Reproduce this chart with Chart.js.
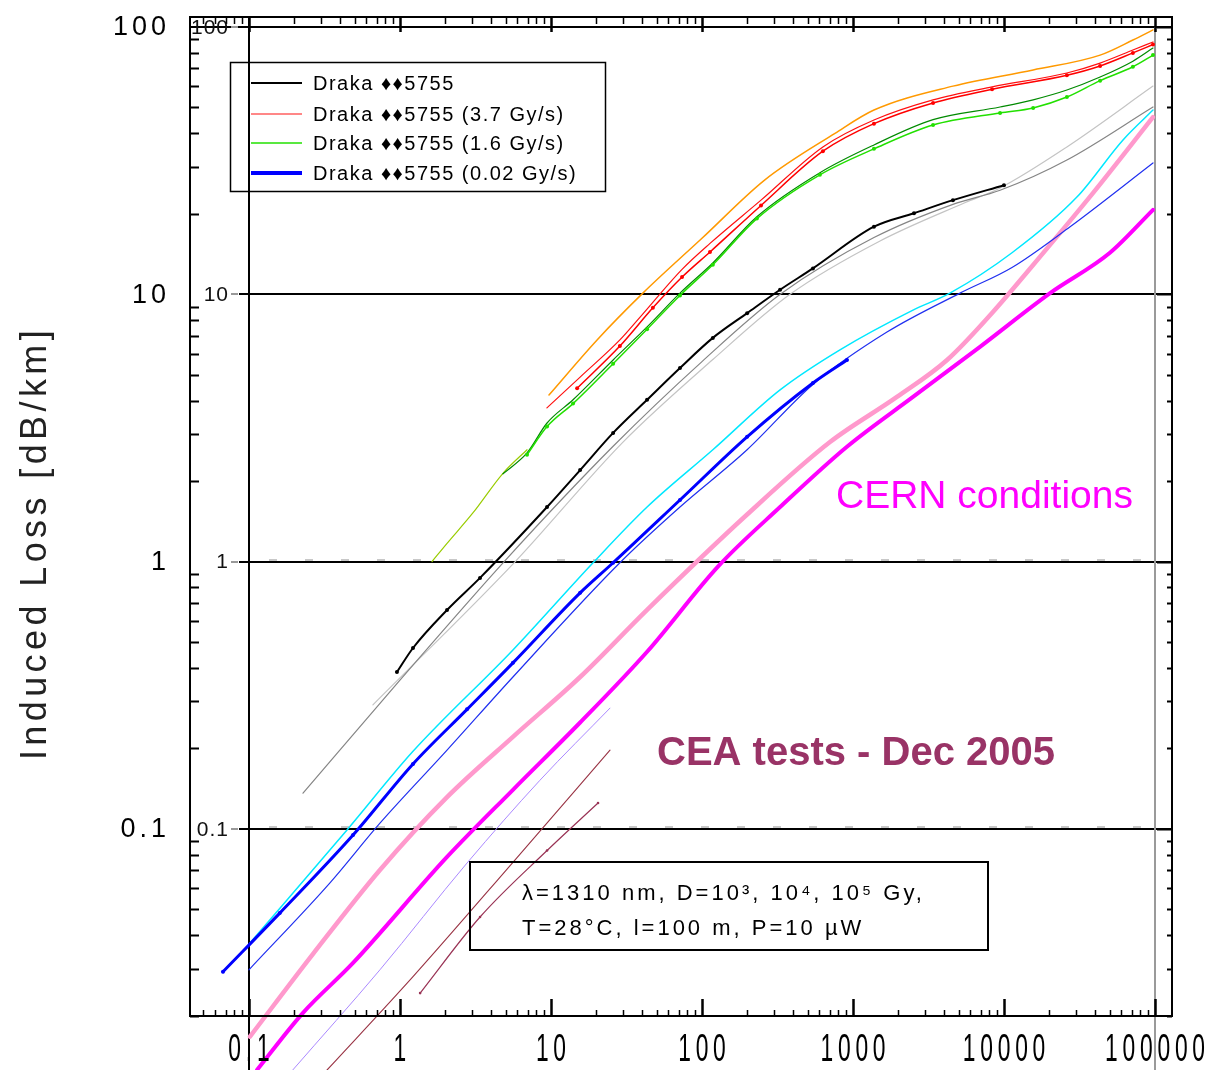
<!DOCTYPE html>
<html>
<head>
<meta charset="utf-8">
<title>Induced loss vs dose</title>
<script src="https://cdn.jsdelivr.net/npm/chart.js@4.4.1/dist/chart.umd.min.js"></script>
<style>
  html, body { margin: 0; padding: 0; background: #fff; }
  #wrap { width: 1214px; height: 1070px; }
</style>
</head>
<body>
<div id="wrap"><canvas id="lossChart" width="1214" height="1070"></canvas></div>
<script>
// Induced loss [dB/km] against dose [Gy], each series as [dose, loss] pairs

const orangePts = [[9.7,4.2],[20.2,6.75],[40.6,10.1],[100,16.2],[261,26.8],[760,40],[1377,48.9],[4592,60.1],[15600,69.1],[43300,78.5],[71400,89.4],[97000,97.5]];
const redPts = [[9.4,3.76],[15.6,4.9],[28.6,6.75],[38.8,8.2],[73.8,12.4],[113,15.5],[246,22.5],[632,35.6],[1377,44.9],[3390,53.4],[8340,59.7],[26100,67.3],[43300,73.3],[71400,82],[97000,87.9]];
const redDotPts = [[14.9,4.45],[28.6,6.4],[47.3,8.9],[73.8,11.6],[113,14.4],[246,21.5],[632,34.3],[1377,43.5],[3390,52],[8340,58.5],[26100,66],[43300,71.5],[71400,80],[97000,86]];
const olivePts = [[1.63,1.0],[2.05,1.17],[3.04,1.52],[4.81,2.14],[6.94,2.62]];
const darkGreenPts = [[4.81,2.13],[6.94,2.55],[9.42,3.3],[14,4.03],[25.8,5.68],[43.3,7.55],[71.5,10.1],[118,13.1],[231,19.5],[604,28.5],[1377,36.2],[3390,45],[9420,50.2],[15600,53.4],[26100,58.1],[43300,65],[71400,74.5],[97000,83.4]];
const greenPts = [[6.94,2.51],[9.42,3.2],[14,3.9],[25.8,5.5],[43.3,7.4],[71.5,9.9],[118,12.9],[231,19.2],[604,28],[1377,35],[3390,43],[9420,47.7],[15600,49.8],[26100,54.7],[43300,63],[71400,71],[97000,78.5]];
const blackPts = [[0.955,0.386],[1.22,0.475],[2.05,0.659],[3.39,0.869],[9.42,1.6],[15.6,2.2],[25.8,3.03],[43.3,4.03],[71.5,5.3],[118,6.87],[199,8.5],[329,10.4],[543,12.5],[1377,17.9],[2535,20.1],[4592,22.5],[10000,25.6]];
const greyPts = [[0.228,0.136],[1.0,0.36],[4.9,1.0],[25.8,2.7],[100,5.6],[330,10],[1377,16.3],[4592,21.7],[9420,24.5],[26100,31.8],[97000,50.2]];
const lightGreyPts = [[0.662,0.291],[5.8,1.0],[30,2.8],[118,5.7],[383,10],[1500,15.8],[5500,22],[9420,25],[26100,35.6],[97000,60.1]];
const cyanPts = [[0.1015,0.0374],[0.446,0.099],[1.22,0.195],[5.6,0.467],[19,0.99],[43.3,1.6],[118,2.62],[329,4.39],[820,6.2],[2497,8.73],[4385,10.1],[11300,14.3],[30400,23.1],[61400,37.8],[97000,48.9]];
const blueDotPts = [[0.0673,0.0292],[0.16,0.0484],[0.489,0.0948],[1.22,0.175],[2.78,0.28],[5.6,0.418],[15.6,0.764],[25.8,0.99],[71.5,1.7],[199,2.93],[543,4.66],[912,5.68]];
const bluePts = [[0.1,0.0297],[0.344,0.0628],[0.737,0.105],[2.05,0.197],[5.6,0.37],[28.6,0.99],[71.5,1.6],[199,2.62],[543,4.6],[1679,7.22],[5117,10.1],[11300,12.6],[27400,17.9],[97000,31]];
const pinkPts = [[0.1015,0.0167],[0.265,0.034],[0.737,0.0702],[2.05,0.1315],[5.6,0.221],[15.6,0.37],[43.3,0.66],[199,1.5],[704,2.8],[1954,4.13],[4198,5.68],[8450,8.59],[15100,12.6],[38800,23.9],[97000,46]];
const magentaPts = [[0.113,0.01253],[0.228,0.0205],[0.489,0.0315],[2.05,0.0785],[5.6,0.14],[15.6,0.25],[43.3,0.46],[128,0.96],[329,1.6],[912,2.69],[2497,4.13],[6934,6.36],[20200,10.1],[50300,14.3],[97000,20.7]];
const violetPts = [[0.195,0.01253],[0.737,0.0297],[2.78,0.0745],[8.45,0.152],[24.6,0.283]];
const brownPts = [[0.329,0.01253],[1.22,0.028],[5.6,0.075],[24.6,0.197]];
const brownDotPts = [[1.36,0.0243],[3.39,0.0468],[9.42,0.083],[20.5,0.125]];

// Axis ranges and labelled decades
const X_MIN = 0.0407, X_MAX = 129600;
const Y_MIN = 0.01995, Y_MAX = 109;
const xDecades = [0.1, 1, 10, 100, 1000, 10000, 100000];
const xTickLabels = ['0.1', '1', '10', '100', '1000', '10000', '100000'];
const yDecades = [0.1, 1, 10, 100];
const yTickLabels = ['0.1', '1', '10', '100'];

const legendLabels = [
  'Draka \u2666\u26665755',
  'Draka \u2666\u26665755 (3.7 Gy/s)',
  'Draka \u2666\u26665755 (1.6 Gy/s)',
  'Draka \u2666\u26665755 (0.02 Gy/s)'
];
const noteLines = [
  '\u03bb=1310 nm, D=10\u00b3, 10\u2074, 10\u2075 Gy,',
  'T=28\u00b0C, l=100 m, P=10 \u00b5W'
];

const FONT = '"Liberation Sans", Arial, sans-serif';

function series(pts, color, width, extra) {
  return Object.assign({
    data: pts.map(p => ({ x: p[0], y: p[1] })),
    borderColor: color,
    backgroundColor: color,
    borderWidth: width,
    pointRadius: 0,
    pointHoverRadius: 0,
    cubicInterpolationMode: 'monotone',
    fill: false
  }, extra || {});
}

const dots = { pointRadius: 2, pointBorderWidth: 0 };

const datasets = [
  series(blueDotPts, '#0000ff', 3, Object.assign({ label: legendLabels[3] }, dots)),
  series(blackPts, '#000000', 2, Object.assign({ label: legendLabels[0] }, dots)),
  series(redDotPts, '#ff0000', 1.5, dots),
  series(redPts, '#ff1010', 1.2, { label: legendLabels[1] }),
  series(greenPts, '#22e000', 1.5, Object.assign({ label: legendLabels[2] }, dots)),
  series(darkGreenPts, '#008a00', 1.2),
  series(olivePts, '#99cc00', 1.2),
  series(orangePts, '#ff9900', 1.5),
  series(greyPts, '#858585', 1.2),
  series(lightGreyPts, '#c4c4c4', 1.2),
  series(cyanPts, '#00e8ff', 1.5),
  series(bluePts, '#2030f0', 1.2),
  series(magentaPts, '#ff00ff', 4, { clip: false }),
  series(pinkPts, '#ff99cc', 4.5, { clip: false }),
  series(violetPts, '#aa88ff', 1, { clip: false }),
  series(brownPts, '#993344', 1.1, { clip: false }),
  series(brownDotPts, '#993355', 1.2, { clip: false, pointRadius: 1.3, pointBorderWidth: 0 })
];

// log-scale tick positions (1..9 per decade) inside a range
function logTicks(min, max) {
  const out = [];
  for (let e = -3; e <= 6; e++) {
    for (let k = 1; k <= 9; k++) {
      const v = k * Math.pow(10, e);
      if (v > min * 1.0001 && v < max * 0.9999) out.push({ v: v, major: k === 1 });
    }
  }
  return out;
}

function spacedText(ctx, text, x, y, spacing) {
  ctx.letterSpacing = spacing + 'px';
  ctx.fillText(text, x, y);
  ctx.letterSpacing = '0px';
}

const axesPlugin = {
  id: 'axesPlugin',
  beforeDatasetsDraw(chart) {
    const { ctx, chartArea: a, scales: { x, y } } = chart;
    const innerX = Math.round(x.getPixelForValue(0.1));
    const lastX = Math.round(x.getPixelForValue(100000));
    ctx.save();

    // decade lines of the loss axis
    ctx.strokeStyle = '#000';
    ctx.lineWidth = 2;
    yDecades.forEach(v => {
      const py = Math.round(y.getPixelForValue(v));
      ctx.beginPath();
      ctx.moveTo(v === 100 ? a.left : innerX - 10, py);
      ctx.lineTo(a.right, py);
      ctx.stroke();
    });
    // faint grey dashes riding on the 1 and 0.1 lines
    ctx.strokeStyle = '#c8c8c8';
    ctx.setLineDash([8, 28]);
    [1, 0.1].forEach(v => {
      const py = Math.round(y.getPixelForValue(v)) - 2;
      ctx.beginPath();
      ctx.moveTo(innerX + 20, py);
      ctx.lineTo(lastX, py);
      ctx.stroke();
    });
    ctx.setLineDash([]);

    // dose = 0.1 axis and dose = 1e5 marker, both running past the frame
    ctx.strokeStyle = '#000';
    ctx.beginPath();
    ctx.moveTo(innerX, a.top);
    ctx.lineTo(innerX, chart.height);
    ctx.stroke();
    ctx.strokeStyle = '#9a9a9a';
    ctx.beginPath();
    ctx.moveTo(lastX, Math.round(y.getPixelForValue(100)));
    ctx.lineTo(lastX, chart.height);
    ctx.stroke();
    ctx.restore();
  },
  afterDatasetsDraw(chart) {
    const { ctx, chartArea: a, scales: { x, y } } = chart;
    const innerX = Math.round(x.getPixelForValue(0.1));
    ctx.save();

    // frame
    ctx.strokeStyle = '#000';
    ctx.lineWidth = 2;
    ctx.strokeRect(a.left, a.top, a.right - a.left, a.bottom - a.top);

    // inward ticks on all four sides
    logTicks(X_MIN, X_MAX).forEach(t => {
      const px = Math.round(x.getPixelForValue(t.v)) + 0.5;
      ctx.lineWidth = t.major ? 2.5 : 1.5;
      ctx.beginPath();
      ctx.moveTo(px, a.bottom);
      ctx.lineTo(px, a.bottom - (t.major ? 17 : 6));
      ctx.moveTo(px, a.top);
      ctx.lineTo(px, a.top + (t.major ? 15 : 7));
      ctx.stroke();
    });
    logTicks(Y_MIN, Y_MAX).forEach(t => {
      const py = Math.round(y.getPixelForValue(t.v)) + 0.5;
      ctx.lineWidth = 2;
      ctx.beginPath();
      if (!t.major) {
        ctx.moveTo(a.left, py);
        ctx.lineTo(a.left + 9, py);
      }
      ctx.moveTo(a.right, py);
      ctx.lineTo(a.right - (t.major ? 15 : 5), py);
      ctx.stroke();
    });

    // tick labels: loss axis, outside the frame
    ctx.fillStyle = '#000';
    ctx.textBaseline = 'middle';
    ctx.textAlign = 'right';
    ctx.font = '27px ' + FONT;
    yDecades.forEach((v, i) => {
      spacedText(ctx, yTickLabels[i], 170, y.getPixelForValue(v) + 1, 4);
    });
    // second copy of the loss labels beside the dose = 0.1 axis
    ctx.font = '21px ' + FONT;
    ctx.fillStyle = '#111';
    yDecades.forEach((v, i) => {
      spacedText(ctx, yTickLabels[i], innerX - 20, y.getPixelForValue(v) + 1, 1);
    });
    ctx.strokeStyle = '#999';
    ctx.lineWidth = 2;
    yDecades.forEach(v => {
      const py = Math.round(y.getPixelForValue(v));
      ctx.beginPath();
      ctx.moveTo(innerX - 18, py);
      ctx.lineTo(innerX - 11, py);
      ctx.stroke();
    });

    // dose labels, narrow and tall
    ctx.fillStyle = '#000';
    ctx.textAlign = 'center';
    ctx.font = '38px ' + FONT;
    xDecades.forEach((v, i) => {
      ctx.save();
      ctx.translate(x.getPixelForValue(v), 1051);
      ctx.scale(0.6, 1);
      spacedText(ctx, xTickLabels[i], 4, 0, 8);
      ctx.restore();
    });

    // loss axis title
    ctx.save();
    ctx.translate(36, 545);
    ctx.rotate(-Math.PI / 2);
    ctx.fillStyle = '#222';
    ctx.font = '36px ' + FONT;
    ctx.textAlign = 'center';
    spacedText(ctx, 'Induced Loss [dB/km]', 2, 0, 4.4);
    ctx.restore();

    // legend box
    ctx.strokeStyle = '#000';
    ctx.lineWidth = 1.5;
    ctx.strokeRect(230.5, 62.5, 375, 129);
    ctx.textAlign = 'left';
    ctx.font = '20px ' + FONT;
    const rows = [83, 114, 143, 173];
    legendLabels.forEach((lbl, i) => {
      const ds = chart.data.datasets.find(d => d.label === lbl);
      ctx.strokeStyle = ds.borderColor;
      ctx.lineWidth = ds.borderWidth + (i === 3 ? 1 : 0);
      ctx.beginPath();
      ctx.moveTo(251, rows[i]);
      ctx.lineTo(302, rows[i]);
      ctx.stroke();
      ctx.fillStyle = '#000';
      spacedText(ctx, lbl, 313, rows[i] + 1, 1.5);
    });

    // measurement conditions box
    ctx.strokeStyle = '#000';
    ctx.lineWidth = 2;
    ctx.strokeRect(470, 862, 518, 88);
    ctx.font = '22px ' + FONT;
    spacedText(ctx, noteLines[0], 522, 894, 3);
    spacedText(ctx, noteLines[1], 522, 929, 3);

    // annotations
    ctx.textBaseline = 'alphabetic';
    ctx.fillStyle = '#ff00ff';
    ctx.font = '39px ' + FONT;
    ctx.fillText('CERN conditions', 836, 508);
    ctx.fillStyle = '#993366';
    ctx.font = 'bold 40px ' + FONT;
    ctx.fillText('CEA tests - Dec 2005', 657, 765);

    ctx.restore();
  }
};

new Chart(document.getElementById('lossChart'), {
  type: 'line',
  data: { datasets: datasets },
  options: {
    responsive: false,
    animation: false,
    devicePixelRatio: 1,
    layout: { padding: { left: 190, top: 17, right: 42, bottom: 54 } },
    plugins: {
      legend: { display: false },
      tooltip: { enabled: false }
    },
    scales: {
      x: { type: 'logarithmic', min: X_MIN, max: X_MAX, display: false },
      y: { type: 'logarithmic', min: Y_MIN, max: Y_MAX, display: false }
    },
    elements: {
      line: { borderJoinStyle: 'round', borderCapStyle: 'round' }
    }
  },
  plugins: [axesPlugin]
});
</script>
</body>
</html>
